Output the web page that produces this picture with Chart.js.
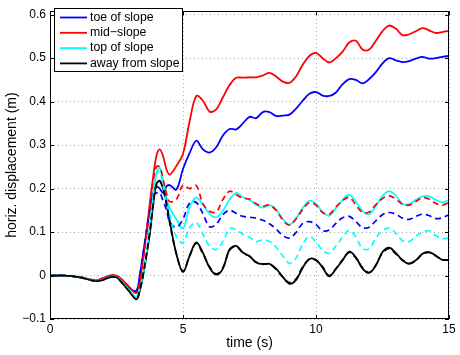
<!DOCTYPE html>
<html>
<head>
<meta charset="utf-8">
<script src="https://cdn.jsdelivr.net/npm/chart.js@4.4.1/dist/chart.umd.min.js"></script>
<style>
html,body{margin:0;padding:0;background:#fff;}
#wrap{position:relative;width:460px;height:355px;}
</style>
</head>
<body>
<div id="wrap"><canvas id="c" width="460" height="355"></canvas></div>
<script>
// ---- data ----
const time = [0,0.25,0.5,0.75,1,1.25,1.5,1.75,2,2.25,2.5,2.75,3,3.25,
  3.375,3.5,3.625,3.75,3.875,4,4.125,4.25,4.375,4.5,
  4.75,5,5.25,5.5,5.75,6,6.25,6.5,6.75,7,7.25,7.5,7.75,8,8.25,8.5,8.75,9,
  9.25,9.5,9.75,10,10.25,10.5,10.75,11,11.25,11.5,11.75,12,12.25,12.5,12.75,13,
  13.25,13.5,13.75,14,14.25,14.5,14.75,15];

const toeSolid = [0,0,0,-0.001,-0.003,-0.006,-0.010,-0.012,-0.007,-0.001,-0.002,-0.014,-0.03,-0.035,
  0.0,0.05,0.1,0.15,0.19,0.205,0.2,0.19,0.205,0.208,
  0.198,0.245,0.282,0.31,0.29,0.283,0.295,0.322,0.337,0.336,
  0.35,0.365,0.362,0.376,0.376,0.367,0.368,0.37,
  0.384,0.402,0.418,0.422,0.414,0.413,0.421,0.44,
  0.452,0.45,0.442,0.452,0.468,0.488,0.5,0.495,
  0.491,0.493,0.499,0.503,0.499,0.5,0.503,0.505];

const midSolid = [0,0,0,-0.001,-0.003,-0.005,-0.009,-0.011,-0.006,0.0,0.0,-0.012,-0.028,-0.04,
  -0.015,0.04,0.1,0.165,0.225,0.275,0.29,0.275,0.245,0.232,
  0.252,0.28,0.355,0.413,0.402,0.377,0.382,0.41,0.438,0.455,
  0.455,0.456,0.456,0.46,0.466,0.458,0.446,0.443,
  0.458,0.485,0.505,0.512,0.5,0.49,0.5,0.515,
  0.536,0.54,0.52,0.52,0.54,0.562,0.575,0.568,
  0.553,0.555,0.562,0.569,0.564,0.558,0.56,0.563];

const topSolid = [0,0,0,-0.001,-0.003,-0.006,-0.010,-0.013,-0.009,-0.003,-0.003,-0.017,-0.035,-0.05,
  -0.03,0.0,0.05,0.11,0.18,0.235,0.248,0.22,0.18,0.155,
  0.13,0.108,0.158,0.179,0.163,0.142,0.134,0.149,0.175,0.19,
  0.18,0.174,0.163,0.156,0.162,0.152,0.13,0.117,
  0.132,0.155,0.172,0.165,0.146,0.138,0.155,0.174,
  0.186,0.17,0.148,0.141,0.16,0.183,0.194,0.184,
  0.165,0.164,0.174,0.182,0.182,0.174,0.168,0.174];

const awaySolid = [0,0,0,-0.001,-0.003,-0.006,-0.010,-0.013,-0.010,-0.004,-0.004,-0.020,-0.038,-0.055,
  -0.035,0.0,0.045,0.095,0.16,0.21,0.218,0.2,0.168,0.125,
  0.05,0.008,0.045,0.076,0.052,0.018,0.002,0.016,0.06,0.068,
  0.053,0.045,0.03,0.026,0.027,0.016,-0.003,-0.019,
  -0.01,0.018,0.038,0.036,0.018,-0.002,0.015,0.035,
  0.055,0.042,0.016,0.006,0.023,0.054,0.064,0.052,
  0.035,0.027,0.035,0.05,0.054,0.046,0.036,0.036];

const toeDashed = [0,0,0,-0.001,-0.003,-0.006,-0.010,-0.012,-0.007,-0.001,-0.002,-0.014,-0.03,-0.035,
  0.0,0.05,0.1,0.15,0.185,0.19,0.19,0.172,0.152,0.124,
  0.111,0.13,0.167,0.168,0.142,0.112,0.118,0.14,0.15,0.143,
  0.136,0.134,0.132,0.127,0.119,0.107,0.092,0.086,
  0.099,0.12,0.124,0.117,0.103,0.105,0.12,0.133,
  0.136,0.124,0.11,0.111,0.126,0.14,0.145,0.141,
  0.132,0.129,0.136,0.141,0.138,0.131,0.133,0.14];

const midDashed = [0,0,0,-0.001,-0.003,-0.005,-0.009,-0.011,-0.006,0.0,0.0,-0.012,-0.028,-0.04,
  -0.015,0.035,0.09,0.155,0.215,0.25,0.25,0.222,0.19,0.17,
  0.175,0.208,0.2,0.207,0.165,0.148,0.146,0.175,0.194,0.186,
  0.178,0.176,0.165,0.16,0.162,0.15,0.128,0.116,
  0.13,0.152,0.168,0.162,0.145,0.141,0.158,0.172,
  0.18,0.162,0.145,0.146,0.163,0.177,0.183,0.176,
  0.164,0.162,0.17,0.179,0.176,0.166,0.162,0.168];

const topDashed = [0,0,0,-0.001,-0.003,-0.006,-0.010,-0.013,-0.009,-0.003,-0.003,-0.017,-0.035,-0.05,
  -0.03,0.0,0.05,0.11,0.18,0.232,0.24,0.205,0.168,0.14,
  0.089,0.075,0.11,0.122,0.095,0.067,0.06,0.078,0.108,0.105,
  0.095,0.088,0.078,0.082,0.078,0.065,0.045,0.028,
  0.04,0.072,0.09,0.077,0.058,0.051,0.068,0.088,
  0.104,0.088,0.062,0.062,0.086,0.103,0.109,0.097,
  0.08,0.078,0.09,0.1,0.103,0.092,0.085,0.086];

const awayDashed = [0,0,0,-0.001,-0.003,-0.006,-0.010,-0.013,-0.010,-0.004,-0.004,-0.020,-0.038,-0.055,
  -0.033,0.003,0.048,0.098,0.162,0.21,0.217,0.2,0.166,0.122,
  0.05,0.01,0.046,0.074,0.05,0.02,0.004,0.018,0.058,0.067,
  0.052,0.044,0.031,0.027,0.026,0.014,-0.004,-0.016,
  -0.008,0.02,0.037,0.035,0.02,0.0,0.016,0.036,
  0.053,0.04,0.018,0.007,0.024,0.052,0.062,0.05,
  0.036,0.028,0.034,0.049,0.053,0.045,0.037,0.035];

const legendLabels = ['toe of slope','mid\u2212slope','top of slope','away from slope'];
const xTicks = [0,5,10,15];
const yTicks = [-0.1,0,0.1,0.2,0.3,0.4,0.5,0.6];
const xTitle = 'time (s)';
const yTitle = 'horiz. displacement (m)';

// ---- build datasets ----
const pts = arr => arr.map((v,i)=>({x:time[i], y:v}));
const colors = ['#0000ff','#ff0000','#00ffff','#000000'];
const solids = [toeSolid, midSolid, topSolid, awaySolid];
const dashes = [toeDashed, midDashed, topDashed, awayDashed];
const datasets = [];
solids.forEach((s,i)=>datasets.push({label:legendLabels[i], data:pts(s), borderColor:colors[i],
  borderWidth:1.8, pointRadius:0, tension:0.35, fill:false, order: 20 - i}));
dashes.forEach((s,i)=>datasets.push({label:legendLabels[i]+' (dashed)', data:pts(s), borderColor:colors[i],
  borderWidth:1.7, borderDash:[6,4], pointRadius:0, tension:0.35, fill:false, order: 10 - i}));

const FONT = '"Liberation Sans", Arial, Helvetica, sans-serif';

const framePlugin = {
  id:'frame',
  afterDraw(chart){
    const {ctx, chartArea:a, scales:{x,y}} = chart;
    ctx.save();
    ctx.strokeStyle = '#000'; ctx.lineWidth = 1;
    ctx.strokeRect(Math.round(a.left)+0.5, Math.round(a.top)+0.5, Math.round(a.right-a.left)-1, Math.round(a.bottom-a.top)-1);
    const L = 4;
    ctx.beginPath();
    yTicks.forEach(v=>{
      const py = Math.round(y.getPixelForValue(v))+0.5;
      ctx.moveTo(a.left, py); ctx.lineTo(a.left+L, py);
      ctx.moveTo(a.right, py); ctx.lineTo(a.right-L, py);
    });
    xTicks.forEach(v=>{
      const px = Math.round(x.getPixelForValue(v))+0.5;
      ctx.moveTo(px, a.bottom); ctx.lineTo(px, a.bottom-L);
      ctx.moveTo(px, a.top); ctx.lineTo(px, a.top+L);
    });
    ctx.stroke();
    // legend box (upper left, inside axes)
    const bx = 54.5, by = 8.5, bw = 128, bh = 63;
    ctx.fillStyle = '#fff';
    ctx.fillRect(bx, by, bw, bh);
    ctx.strokeRect(bx, by, bw, bh);
    ctx.font = '12.3px ' + FONT;
    ctx.textBaseline = 'middle';
    ctx.textAlign = 'left';
    legendLabels.forEach((lab,i)=>{
      const ry = 17.5 + i*15.3;
      ctx.strokeStyle = colors[i]; ctx.lineWidth = 1.8;
      ctx.beginPath(); ctx.moveTo(60, ry); ctx.lineTo(87, ry); ctx.stroke();
      ctx.fillStyle = '#000';
      ctx.fillText(lab, 90, ry);
    });
    ctx.restore();
  }
};

new Chart(document.getElementById('c'), {
  type:'line',
  data:{datasets},
  options:{
    responsive:false, animation:false, devicePixelRatio:1,
    layout:{padding:{left:0,right:11,top:5,bottom:0}},
    plugins:{legend:{display:false}, tooltip:{enabled:false}},
    scales:{
      x:{type:'linear', min:0, max:15,
        afterBuildTicks(s){ s.ticks = xTicks.map(v=>({value:v})); },
        afterFit(s){ s.height = 36; },
        ticks:{color:'#000', font:{family:FONT, size:12}, padding:3, maxRotation:0},
        grid:{color:'#a8a8a8', lineWidth:1, drawTicks:false},
        border:{display:false, dash:[1,3]},
        title:{display:true, text:xTitle, color:'#000', font:{family:FONT, size:14}, padding:{top:0,bottom:3.5}}
      },
      y:{type:'linear', min:-0.1, max:0.608,
        afterBuildTicks(s){ s.ticks = yTicks.map(v=>({value:v})); },
        afterFit(s){ s.width = 50; },
        ticks:{color:'#000', font:{family:FONT, size:12}, padding:4,
          callback:(v)=>{ const r=Math.round(v*10)/10; return r===0?'0':(r<0?'\u2212':'')+Math.abs(r).toString(); }},
        grid:{color:'#a8a8a8', lineWidth:1, drawTicks:false},
        border:{display:false, dash:[1,3]},
        title:{display:true, text:yTitle, color:'#000', font:{family:FONT, size:14}, padding:{top:3.3,bottom:0}}
      }
    }
  },
  plugins:[framePlugin]
});
</script>
</body>
</html>
